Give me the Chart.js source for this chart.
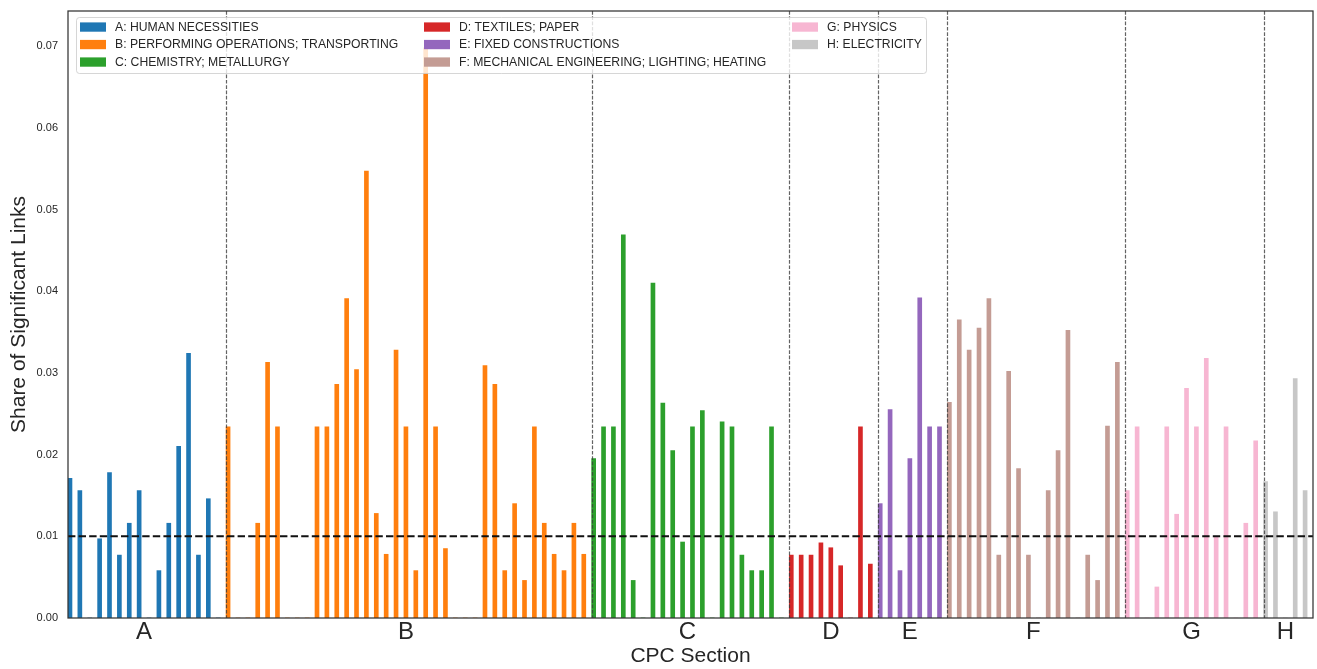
<!DOCTYPE html>
<html>
<head>
<meta charset="utf-8">
<script src="https://cdn.jsdelivr.net/npm/chart.js@4.4.1/dist/chart.umd.min.js"></script>
<style>
  html, body { margin: 0; padding: 0; background: #fff; }
  #wrap { width: 1317px; height: 669px; }
</style>
</head>
<body>
<div id="wrap"><canvas id="cpcChart"></canvas></div>
<script>
// CPC sections and their subclass shares (0 = no significant links)
const sections = ['A', 'B', 'C', 'D', 'E', 'F', 'G', 'H'];
const sectionNames = [
    'A: HUMAN NECESSITIES',
    'B: PERFORMING OPERATIONS; TRANSPORTING',
    'C: CHEMISTRY; METALLURGY',
    'D: TEXTILES; PAPER',
    'E: FIXED CONSTRUCTIONS',
    'F: MECHANICAL ENGINEERING; LIGHTING; HEATING',
    'G: PHYSICS',
    'H: ELECTRICITY'
];
const sectionColors = ['#1f77b4', '#ff7f0e', '#2ca02c', '#d62728', '#9467bd', '#c49c94', '#f7b6d2', '#c7c7c7'];

const valuesA = [0.0171, 0.0156, 0, 0.0097, 0.0178, 0.0077, 0.0116, 0.0156, 0, 0.0058, 0.0116, 0.0210, 0.0324, 0.0077, 0.0146, 0];
const valuesB = [0.0234, 0, 0, 0.0116, 0.0313, 0.0234, 0, 0, 0,
                 0.0234, 0.0234, 0.0286, 0.0391, 0.0304, 0.0547, 0.0128, 0.0078, 0.0328, 0.0234, 0.0058, 0.0698, 0.0234, 0.0085,
                 0, 0, 0,
                 0.0309, 0.0286, 0.0058, 0.0140, 0.0046, 0.0234, 0.0116, 0.0078, 0.0058, 0.0116, 0.0078];
const valuesC = [0.0195, 0.0234, 0.0234, 0.0469, 0.0046, 0, 0.0410, 0.0263, 0.0205, 0.0093, 0.0234, 0.0254, 0,
                 0.0240, 0.0234, 0.0077, 0.0058, 0.0058, 0.0234, 0];
const valuesD = [0.0077, 0.0077, 0.0077, 0.0092, 0.0086, 0.0064, 0, 0.0234, 0.0066];
const valuesE = [0.0140, 0.0255, 0.0058, 0.0195, 0.0392, 0.0234, 0.0234];
const valuesF = [0.0264, 0.0365, 0.0328, 0.0355, 0.0391, 0.0077, 0.0302, 0.0183, 0.0077, 0,
                 0.0156, 0.0205, 0.0352, 0, 0.0077, 0.0046, 0.0235, 0.0313];
const valuesG = [0.0156, 0.0234, 0, 0.0038, 0.0234, 0.0127, 0.0281, 0.0234, 0.0318, 0.0100, 0.0234, 0, 0.0116, 0.0217];
const valuesH = [0.0167, 0.0130, 0, 0.0293, 0.0156];

const sectionValues = [valuesA, valuesB, valuesC, valuesD, valuesE, valuesF, valuesG, valuesH];
const threshold = 0.01;
const yTicks = [0, 0.01, 0.02, 0.03, 0.04, 0.05, 0.06, 0.07];

// lay the subclasses side by side, one slot each
const datasets = [];
const sectionStarts = [];
const labelPositions = [];
let slot = 0;
sectionValues.forEach((vals, s) => {
    sectionStarts.push(slot);
    labelPositions.push(slot + (vals.length - 1) / 2 + 0.2);
    datasets.push({
        label: sectionNames[s],
        data: vals.map((v, i) => ({ x: slot + i + 0.2, y: v })),
        backgroundColor: sectionColors[s],
        barThickness: 4,
        grouped: false
    });
    slot += vals.length;
});
const totalSlots = slot;

Chart.defaults.font.family = '"Liberation Sans", Arial, sans-serif';
Chart.defaults.color = '#262626';

const overlay = {
    id: 'overlay',
    afterDatasetsDraw(chart) {
        const ctx = chart.ctx;
        const area = chart.chartArea;
        const xs = chart.scales.x;
        const ys = chart.scales.y;
        ctx.save();

        // section separators
        ctx.strokeStyle = 'rgba(60,60,60,0.8)';
        ctx.lineWidth = 1.2;
        ctx.setLineDash([3.7, 1.6]);
        sectionStarts.slice(1).forEach(s => {
            const px = Math.round(xs.getPixelForValue(s)) + 0.5;
            ctx.beginPath();
            ctx.moveTo(px, area.top);
            ctx.lineTo(px, area.bottom);
            ctx.stroke();
        });

        // threshold line
        const ty = ys.getPixelForValue(threshold);
        ctx.strokeStyle = '#111';
        ctx.lineWidth = 2;
        ctx.setLineDash([7.4, 3.2]);
        ctx.beginPath();
        ctx.moveTo(area.left, ty);
        ctx.lineTo(area.right, ty);
        ctx.stroke();

        // frame
        ctx.setLineDash([]);
        ctx.strokeStyle = '#333';
        ctx.lineWidth = 1.25;
        ctx.strokeRect(area.left, area.top, area.right - area.left, area.bottom - area.top);

        // legend, 3 columns filled column by column
        const bx = 76, by = 17, bw = 850, bh = 56;
        ctx.fillStyle = 'rgba(255,255,255,0.8)';
        ctx.strokeStyle = 'rgba(204,204,204,0.8)';
        ctx.lineWidth = 1;
        ctx.beginPath();
        ctx.roundRect(bx + 0.5, by + 0.5, bw, bh, 3);
        ctx.fill();
        ctx.stroke();

        const colX = [80, 424, 792];
        const rowY = [27, 44.5, 62];
        ctx.font = '12.2px "Liberation Sans", Arial, sans-serif';
        ctx.textBaseline = 'middle';
        chart.data.datasets.forEach((ds, i) => {
            const cx = colX[Math.floor(i / 3)];
            const cy = rowY[i % 3];
            ctx.fillStyle = ds.backgroundColor;
            ctx.fillRect(cx, cy - 4.6, 26, 9.3);
            ctx.fillStyle = '#262626';
            ctx.fillText(ds.label, cx + 35, cy + 0.5);
        });
        ctx.restore();
    }
};

new Chart(document.getElementById('cpcChart'), {
    type: 'bar',
    data: { datasets: datasets },
    options: {
        responsive: true,
        maintainAspectRatio: false,
        animation: false,
        layout: { padding: { top: 11, right: 4, left: 0, bottom: 0 } },
        plugins: {
            legend: { display: false },
            tooltip: { enabled: false }
        },
        scales: {
            x: {
                type: 'linear',
                min: 0,
                max: totalSlots,
                offset: false,
                grid: { display: false, drawTicks: false },
                border: { display: false },
                afterBuildTicks: scale => {
                    scale.ticks = labelPositions.map(v => ({ value: v }));
                },
                ticks: {
                    autoSkip: false,
                    maxRotation: 0,
                    padding: 0,
                    font: { size: 24 },
                    color: '#262626',
                    callback: (value, index) => sections[index]
                },
                title: {
                    display: true,
                    text: 'CPC Section',
                    font: { size: 21 },
                    color: '#262626',
                    padding: { top: 0, bottom: 0 }
                },
                afterFit: scale => { scale.height = 51; }
            },
            y: {
                min: 0,
                max: 0.0743,
                grid: { display: false, drawTicks: false },
                border: { display: false },
                afterBuildTicks: scale => {
                    scale.ticks = yTicks.map(v => ({ value: v }));
                },
                ticks: {
                    padding: 10,
                    font: { size: 11 },
                    color: '#262626',
                    callback: v => v.toFixed(2)
                },
                title: {
                    display: true,
                    text: 'Share of Significant Links',
                    font: { size: 21 },
                    color: '#262626',
                    padding: { top: 7, bottom: 0 }
                },
                afterFit: scale => {
                    scale.width = 68;
                    scale.paddingTop = 0;
                    scale.paddingBottom = 0;
                }
            }
        }
    },
    plugins: [overlay]
});
</script>
</body>
</html>
